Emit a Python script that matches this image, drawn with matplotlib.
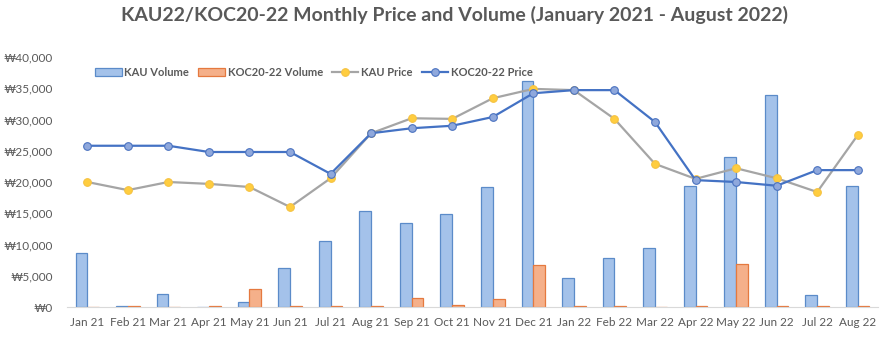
import matplotlib
matplotlib.use("Agg")
import matplotlib.pyplot as plt
import numpy as np
from matplotlib.ticker import FuncFormatter

plt.rcParams['font.family'] = ['Lato', 'DejaVu Sans']

months = ["Jan 21", "Feb 21", "Mar 21", "Apr 21", "May 21", "Jun 21", "Jul 21",
          "Aug 21", "Sep 21", "Oct 21", "Nov 21", "Dec 21", "Jan 22", "Feb 22",
          "Mar 22", "Apr 22", "May 22", "Jun 22", "Jul 22", "Aug 22"]
kau_volume = [8600, 100, 2100, 0, 800, 6200, 10600, 15400, 13400, 14900,
              19200, 36200, 4600, 7800, 9400, 19400, 24000, 33900, 1900, 19400]
koc_volume = [0, 100, 0, 100, 2900, 100, 100, 100, 1400, 300,
              1300, 6700, 100, 100, 0, 100, 6900, 100, 100, 100]
kau_price = [20000, 18700, 20000, 19700, 19200, 16000, 20600, 27800, 30200, 30100,
             33400, 34900, 34700, 30100, 22900, 20500, 22200, 20600, 18400, 27500]
koc_price = [25800, 25800, 25800, 24800, 24800, 24800, 21300, 27800, 28600, 29000,
             30400, 34200, 34700, 34700, 29600, 20300, 20000, 19400, 21900, 21900]

grey = "#595959"
fig = plt.figure(figsize=(8.85, 3.43), dpi=100)
ax = fig.add_axes([67 / 885, 36 / 343, 811 / 885, 250 / 343])

x = np.arange(len(months))
w = 0.29
b1 = ax.bar(x - w / 2, kau_volume, w, color="#a4c2ea", edgecolor="#5b8bc9", linewidth=0.9,
            label="KAU Volume", zorder=2)
b2 = ax.bar(x + w / 2, koc_volume, w, color="#f5b08a", edgecolor="#e5793f", linewidth=0.9,
            label="KOC20-22 Volume", zorder=2)
l1, = ax.plot(x, kau_price, color="#a5a5a5", lw=1.6, marker="o", ms=5.5,
              mfc="#ffcd3f", mec="#f5c242", mew=0.8, label="KAU Price", zorder=3)
l2, = ax.plot(x, koc_price, color="#4472c4", lw=1.6, marker="o", ms=5.5,
              mfc="#8fa8dc", mec="#4a72c0", mew=0.8, label="KOC20-22 Price", zorder=4)

ax.set_xlim(-0.5, len(months) - 0.5)
ax.set_ylim(0, 40000)
ax.set_yticks(np.arange(0, 40001, 5000))
ax.yaxis.set_major_formatter(FuncFormatter(lambda v, p: "₩{:,.0f}".format(v)))
ax.set_xticks(x)
ax.set_xticklabels(months)
ax.tick_params(axis="both", length=0, labelsize=8.5, colors=grey)
ax.tick_params(axis="x", pad=7)
ax.tick_params(axis="y", pad=10)
for s in ["top", "right", "left"]:
    ax.spines[s].set_visible(False)
ax.spines["bottom"].set_color("#d9d9d9")

fig.text(0.514, 0.955, "KAU22/KOC20-22 Monthly Price and Volume (January 2021 - August 2022)",
         ha="center", va="center", fontsize=14, fontweight="bold", color=grey)

leg = fig.legend(handles=[b1, b2, l1, l2], loc="center left", ncol=4,
                 bbox_to_anchor=(85 / 885, 1 - 72 / 343), frameon=False,
                 fontsize=8, handlelength=2.4, columnspacing=0.8, handletextpad=0.25)
for t in leg.get_texts():
    t.set_color(grey)
    t.set_fontweight("bold")

fig.savefig("out.png", dpi=100)
